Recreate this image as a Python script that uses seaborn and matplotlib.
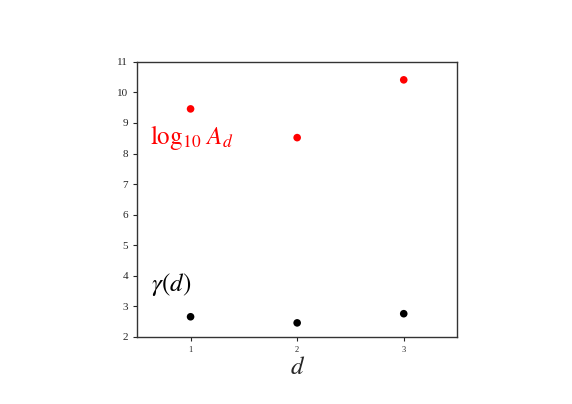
import matplotlib
matplotlib.use("Agg")
import matplotlib.pyplot as plt
import seaborn as sns
import pandas as pd

# values
d_values = [1, 2, 3]
log10_A = [9.46, 8.52, 10.41]
gamma = [2.66, 2.46, 2.76]

sns.set_style("white")
plt.rcParams['font.family'] = ['Liberation Serif', 'DejaVu Serif']
plt.rcParams['mathtext.fontset'] = 'stix'

df = pd.DataFrame({'d': d_values + d_values,
                   'value': log10_A + gamma,
                   'series': ['A'] * 3 + ['gamma'] * 3})

fig = plt.figure(figsize=(5.72, 4.04), dpi=100)
ax = fig.add_axes([0.24, 0.166, 0.559, 0.681])

sns.scatterplot(data=df, x='d', y='value', hue='series',
                palette={'A': 'red', 'gamma': 'black'},
                s=30, edgecolor='none', legend=False, ax=ax)

ax.set_xlim(0.5, 3.5)
ax.set_ylim(2, 11)
ax.set_xticks(d_values)
ax.set_yticks(range(2, 12))
ax.tick_params(axis='x', labelsize=6, direction='out', length=3, bottom=True)
ax.tick_params(axis='y', labelsize=8, direction='out', length=3, left=True)
ax.set_xlabel(r'$d$', fontsize=18, labelpad=2)
ax.set_ylabel('')

for spine in ax.spines.values():
    spine.set_color('#333333')
    spine.set_linewidth(1)

ax.text(0.62, 8.3, r'$\log_{10}\,A_d$', color='red', fontsize=18)
ax.text(0.63, 3.5, r'$\gamma(d)$', color='black', fontsize=18)

fig.savefig('out.png', dpi=100)
